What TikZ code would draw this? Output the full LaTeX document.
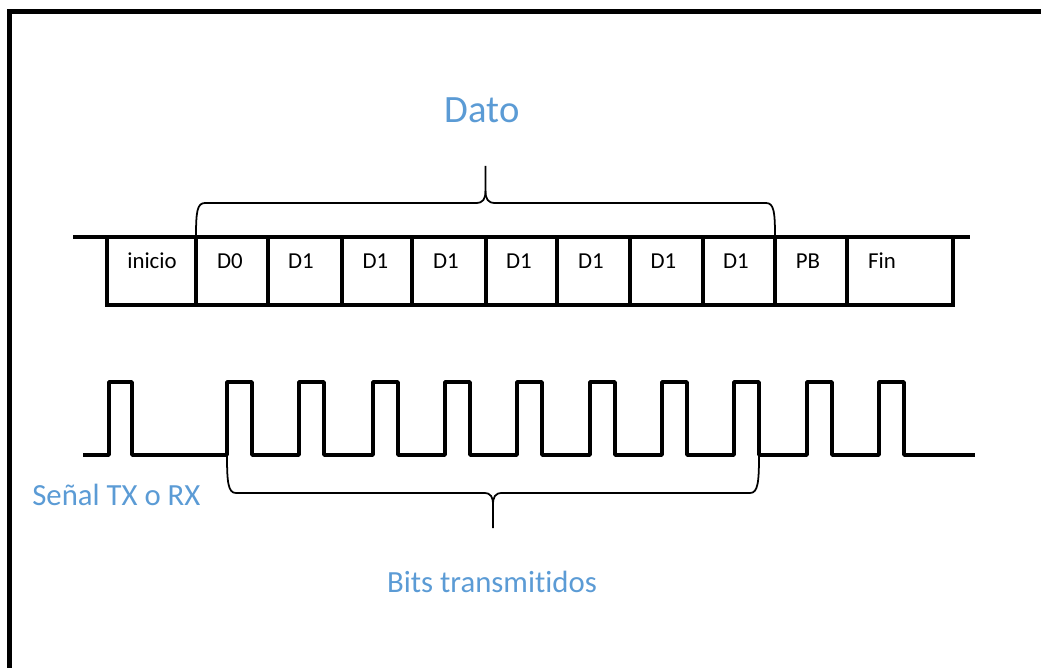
\documentclass[tikz,border=0pt]{standalone}
\usepackage{fontspec}
\setmainfont{Carlito}[Ligatures=NoCommon]
\usepackage{xcolor}
\usetikzlibrary{calc}
\definecolor{azul}{HTML}{5B9BD5}
\tikzset{
  marco/.style={line width=2.6pt},
  trama/.style={line width=2pt, line cap=rect},
  senal/.style={line width=2pt, line join=round},
  llave/.style={line width=1pt},
  campo/.style={font=\fontsize{13}{15}\selectfont, anchor=base, inner sep=0pt},
  rotulo/.style={text=azul, anchor=base, inner sep=0pt},
}

\begin{document}
\begin{tikzpicture}[x=0.02cm, y=-0.02cm]
  \useasboundingbox (0,0) rectangle (1041,668);
  \draw[marco] (9.5,668) -- (9.5,11.3) -- (1041,11.3);

  % trama de la palabra
  \draw[trama] (75,237) -- (968,237);
  \draw[trama] (107,305) -- (953,305);
  \foreach \x in {107,196,268,342,412,486,557,630,703,775,847,953}
    \draw[trama] (\x,237) -- (\x,305);
  \node[campo] (inicio) at (152,269) {inicio};
  \node[campo] (d0) at (230,269) {D0};
  \foreach \x/\n in {301/1,375.5/2,446/3,519/4,591/5,663.5/6,736/7}
    \node[campo] (d\n) at (\x,269) {D1};
  \node[campo] (pb) at (808,269) {PB};
  \node[campo] (fin) at (882,269) {Fin};

  % llave del dato
  \coordinate (datoA) at (196,237);
  \coordinate (datoB) at (775,237);
  \draw[llave] (datoA) .. controls (196,212) and (197,203) .. (205,203) -- (476,203)
    .. controls (483,203) and (485.5,199) .. (485.5,191) -- (485.5,166);
  \draw[llave] (485.5,191) .. controls (485.5,199) and (488,203) .. (495,203) -- (766,203)
    .. controls (774,203) and (775,212) .. (datoB);
  \node[rotulo, font=\fontsize{22}{26}\selectfont] (dato) at (482,123) {Dato};

  % senal serie
  \draw[senal] (83,455) -| (109,382) -| (132,455)
    \foreach \x in {227,299,373,445,517,590,662,734,807,879} { -| (\x,382) -| (\x+25,455) }
    -- (975,455);
  \node[rotulo, font=\fontsize{17.5}{21}\selectfont, anchor=base west] (senal) at (32,505) {Señal TX o RX};

  % llave de los bits
  \coordinate (bitsA) at (227,455);
  \coordinate (bitsB) at (759,455);
  \draw[llave] (bitsA) .. controls (227,482) and (228,493) .. (236,493) -- (484,493)
    .. controls (491,493) and (493,497) .. (493,505) -- (493,528);
  \draw[llave] (493,505) .. controls (493,497) and (495,493) .. (502,493) -- (750,493)
    .. controls (758,493) and (759,482) .. (bitsB);
  \node[rotulo, font=\fontsize{17.5}{21}\selectfont] (bits) at (492,592) {Bits transmitidos};
\end{tikzpicture}
\end{document}
